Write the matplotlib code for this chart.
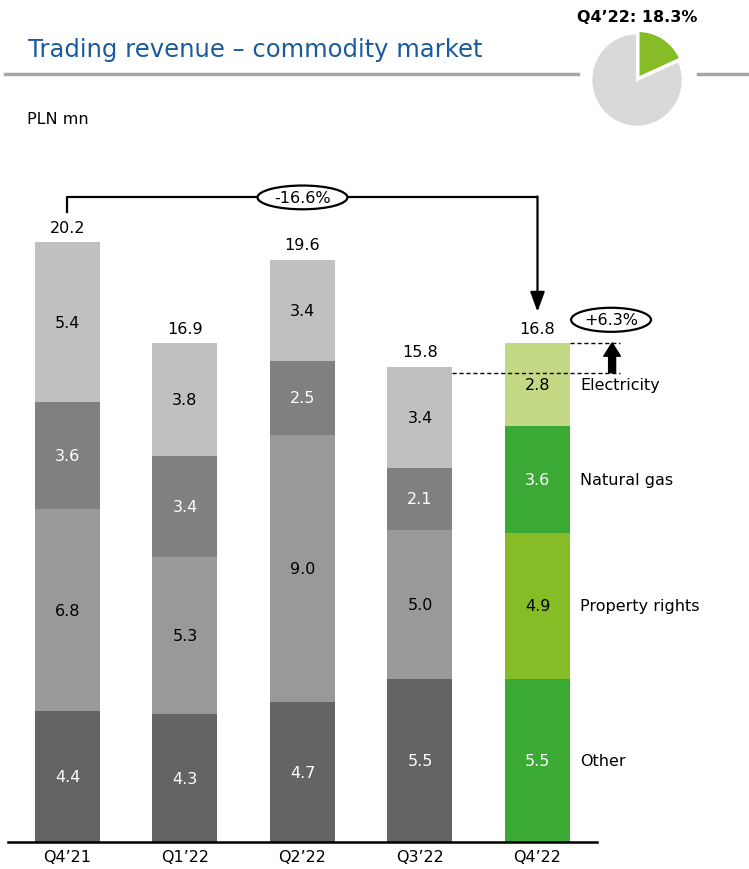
import matplotlib.pyplot as plt
from matplotlib.lines import Line2D
from matplotlib.patches import Ellipse

quarters = ['Q4\u201921', 'Q1\u201922', 'Q2\u201922', 'Q3\u201922', 'Q4\u201922']
segments = ['Other', 'Property rights', 'Natural gas', 'Electricity']
other = [4.4, 4.3, 4.7, 5.5, 5.5]
property_rights = [6.8, 5.3, 9.0, 5.0, 4.9]
natural_gas = [3.6, 3.4, 2.5, 2.1, 3.6]
electricity = [5.4, 3.8, 3.4, 3.4, 2.8]
totals = [20.2, 16.9, 19.6, 15.8, 16.8]
yoy_change = '-16.6%'
qoq_change = '+6.3%'
share_q4 = 18.3

grey_cols = ['#646464', '#999999', '#808080', '#c0c0c0']
green_cols = ['#3aaa35', '#86bc25', '#3aaa35', '#c4d984']
label_cols = ['white', 'black', 'white', 'black']

plt.rcParams['font.family'] = 'DejaVu Sans'

fig = plt.figure(figsize=(7.49, 8.70), dpi=100)
ax = fig.add_axes([8 / 749, 27 / 870, 741 / 749, 693 / 870])
ax.set_xlim(-0.506, 5.8)
ax.set_ylim(0, 23.33)
ax.axis('off')

width = 0.553
stack = [other, property_rights, natural_gas, electricity]
n = len(quarters)
for i in range(n):
    bottom = 0
    cols = green_cols if i == n - 1 else grey_cols
    for k, vals in enumerate(stack):
        v = vals[i]
        ax.bar(i, v, width=width, bottom=bottom, color=cols[k], linewidth=0)
        ax.text(i, bottom + v / 2, f'{v:.1f}', ha='center', va='center',
                fontsize=11.5, color=label_cols[k])
        bottom += v
    ax.text(i, bottom + 0.5, f'{totals[i]:.1f}', ha='center', va='center', fontsize=11.5)
    ax.text(i, -0.5, quarters[i], ha='center', va='center', fontsize=11.5)

# segment names beside the last bar
bottom = 0
for k, vals in enumerate(stack):
    v = vals[-1]
    ax.text(4.362, bottom + v / 2, segments[k], ha='left', va='center', fontsize=11.5)
    bottom += v

ax.plot([-0.506, 4.506], [0, 0], color='black', lw=1.8, clip_on=False)

# year-on-year bracket
top_y = 21.7
ax.plot([0, 0, 4], [totals[0] + 1.0, top_y, top_y], color='black', lw=1.6)
ax.annotate('', xy=(4, totals[4] + 1.05), xytext=(4, top_y + 0.03),
            arrowprops=dict(arrowstyle='-|>,head_length=0.6,head_width=0.22',
                            lw=1.6, color='black', mutation_scale=20,
                            shrinkA=0, shrinkB=0))
ax.add_patch(Ellipse((2, top_y), 0.765, 0.8, facecolor='white',
                     edgecolor='black', lw=1.6, zorder=3))
ax.text(2, top_y, yoy_change, ha='center', va='center', fontsize=11.5, zorder=4)

# quarter-on-quarter change
ax.plot([3 + width / 2, 4.70], [totals[3], totals[3]], color='black', lw=1,
        linestyle=(0, (3, 2)))
ax.plot([4 + width / 2, 4.70], [totals[4], totals[4]], color='black', lw=1,
        linestyle=(0, (3, 2)))
ax.annotate('', xy=(4.635, totals[4]), xytext=(4.635, totals[3]),
            arrowprops=dict(width=5, headwidth=12, headlength=9.5,
                            color='black', shrink=0))
ax.add_patch(Ellipse((4.626, 17.58), 0.68, 0.81, facecolor='white',
                     edgecolor='black', lw=1.6, zorder=3))
ax.text(4.626, 17.58, qoq_change, ha='center', va='center', fontsize=11.5, zorder=4)

# header
fig.text(28 / 749, (870 - 50) / 870, 'Trading revenue \u2013 commodity market',
         color='#1a5b9c', fontsize=17.5, va='center', ha='left')
fig.text(27 / 749, (870 - 120) / 870, 'PLN mn', fontsize=11.5, va='center', ha='left')
for xs in ([5 / 749, 578 / 749], [698 / 749, 1.0]):
    fig.add_artist(Line2D(xs, [(870 - 75) / 870] * 2, color='#a6a6a6', lw=2.5))

pax = fig.add_axes([589 / 749, (870 - 130) / 870, 96 / 749, 98 / 870])
pax.pie([share_q4, 100 - share_q4], colors=['#86bc25', '#d9d9d9'], startangle=90,
        counterclock=False, explode=[0.06, 0],
        wedgeprops=dict(edgecolor='white', linewidth=1.5))
pax.set_aspect('auto')
pax.set_xlim(-1.05, 1.05)
pax.set_ylim(-1.05, 1.05)
fig.text(637 / 749, (870 - 17) / 870, f'Q4\u201922: {share_q4:.1f}%', fontsize=11.5,
         fontweight='bold', ha='center', va='center')

fig.savefig('out.png', dpi=100)
